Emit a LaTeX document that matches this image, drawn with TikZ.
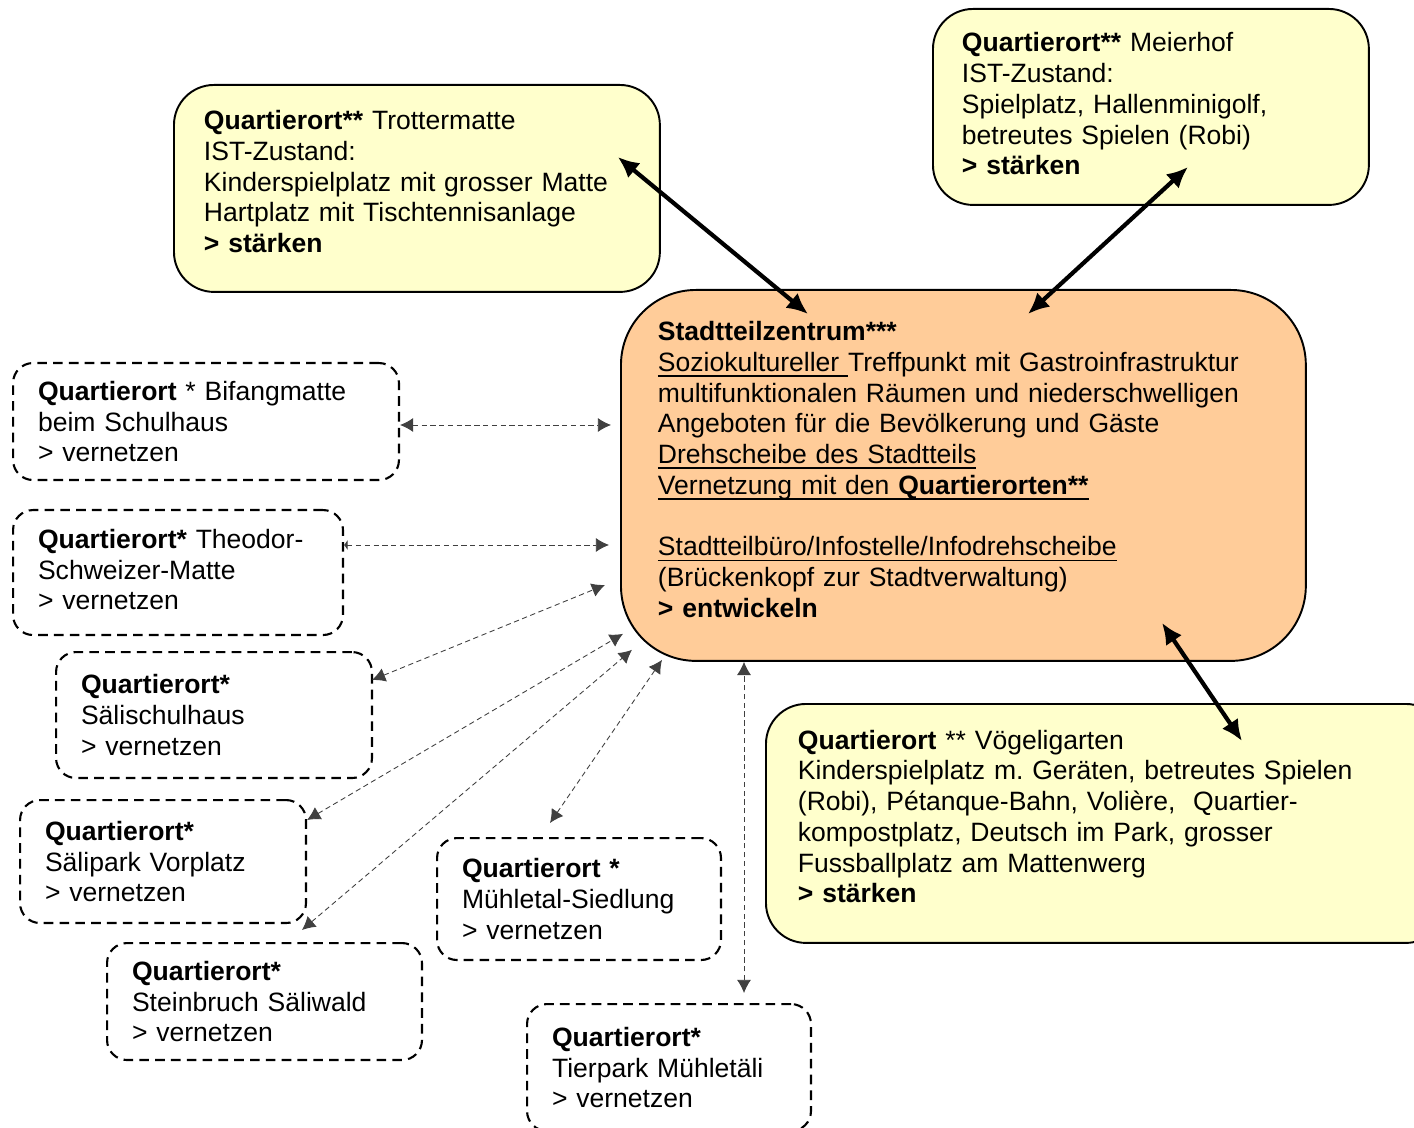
\documentclass[tikz,border=0pt]{standalone}
\usepackage{fontspec}
\setmainfont{Liberation Sans}
\usetikzlibrary{arrows.meta,calc}
\definecolor{hellgelb}{HTML}{FFFFCC}
\definecolor{pfirsich}{HTML}{FFCC99}
\newcommand{\ustr}[1]{\leavevmode\setbox0\hbox{#1}\rlap{\rule[-3.2pt]{\wd0}{1pt}}\box0}
\newcommand{\unten}[1]{\rule[-#1]{0pt}{0pt}}
\frenchspacing

\begin{document}
\begin{tikzpicture}[x=0.02cm,y=-0.02cm,
    every node/.style={font=\fontsize{15.1}{17.5}\selectfont, align=left, anchor=north west},
    stark/.style={draw, line width=1.1pt, fill=hellgelb, rounded corners=0.8cm, inner xsep=0.6cm},
    ort/.style={draw, line width=1.2pt, dash pattern=on 5.5pt off 3.5pt, rounded corners=0.4cm, inner xsep=0.5cm},
    link/.style={line width=0.5pt, dash pattern=on 3pt off 2pt, black!75, {Latex[length=7.5pt,width=8pt]}-{Latex[length=7.5pt,width=8pt]}},
    dick/.style={line width=2.4pt, {Latex[length=12pt,width=11pt]}-{Latex[length=12pt,width=11pt]}}]
    \path[use as bounding box, clip] (0,0) rectangle (1414,1128);

    % Stadtteilzentrum
    \node[draw, line width=1.1pt, fill=pfirsich, rounded corners=1.5cm, inner xsep=0.74cm,
          minimum width=13.7cm, minimum height=7.42cm, text width=12.22cm] (zentrum) at (620,289)
        {\textbf{Stadtteilzentrum***}\\
         \ustr{Soziokultureller }Treffpunkt mit Gastroinfrastruktur\\
         multifunktionalen Räumen und niederschwelligen\\
         Angeboten für die Bevölkerung und Gäste\\
         \ustr{Drehscheibe des Stadtteils}\\
         \ustr{Vernetzung mit den \textbf{Quartierorten**}}\\
         ~\\
         \ustr{Stadtteilbüro/Infostelle/Infodrehscheibe}\\
         (Brückenkopf zur Stadtverwaltung)\\
         \textbf{> entwickeln}\unten{7pt}};

    % Quartierorte ** (staerken)
    \node[stark, minimum width=9.72cm, minimum height=4.14cm, text width=8.52cm] (trott) at (173,84)
        {\textbf{Quartierort**} Trottermatte\\IST-Zustand:\\Kinderspielplatz mit grosser Matte\\
         Hartplatz mit Tischtennisanlage\\\textbf{> stärken}\unten{8pt}};
    \node[stark, inner xsep=0.58cm, minimum width=8.72cm, minimum height=3.92cm, text width=7.56cm] (meier) at (932,8)
        {\textbf{Quartierort**} Meierhof\\IST-Zustand:\\Spielplatz, Hallenminigolf,\\
         betreutes Spielen (Robi)\\\textbf{> stärken}\unten{3.5pt}};
    \node[stark, inner xsep=0.64cm, minimum width=13.6cm, minimum height=4.78cm, text width=12.32cm] (voegeli) at (765,703)
        {\textbf{Quartierort} ** Vögeligarten\\Kinderspielplatz m. Geräten, betreutes Spielen\\
         (Robi), Pétanque-Bahn, Volière, \ Quartier-\\kompostplatz, Deutsch im Park, grosser\\
         Fussballplatz am Mattenwerg\\\textbf{> stärken}\unten{8pt}};

    % Quartierorte * (vernetzen)
    \node[ort, minimum width=7.72cm, minimum height=2.34cm, text width=6.72cm] (bifang) at (12,362)
        {\textbf{Quartierort} * Bifangmatte\\beim Schulhaus\\> vernetzen};
    \node[ort, minimum width=6.6cm, minimum height=2.5cm, text width=5.6cm] (theodor) at (12,509)
        {\textbf{Quartierort*} Theodor-\\Schweizer-Matte\\> vernetzen\unten{3.5pt}};
    \node[ort, minimum width=6.32cm, minimum height=2.52cm, text width=5.32cm] (saelischul) at (55,651)
        {\textbf{Quartierort*}\\Sälischulhaus\\> vernetzen};
    \node[ort, minimum width=5.72cm, minimum height=2.46cm, text width=4.72cm] (saelipark) at (19,799)
        {\textbf{Quartierort*}\\Sälipark Vorplatz\\> vernetzen};
    \node[ort, minimum width=6.3cm, minimum height=2.34cm, text width=5.3cm] (steinbruch) at (106,942)
        {\textbf{Quartierort*}\\Steinbruch Säliwald\\> vernetzen};
    \node[ort, minimum width=5.68cm, minimum height=2.44cm, text width=4.68cm] (muehletal) at (436,837)
        {\textbf{Quartierort *}\\Mühletal-Siedlung\\> vernetzen};
    \node[ort, minimum width=5.68cm, minimum height=2.54cm, text width=4.68cm] (tierpark) at (526,1003)
        {\textbf{Quartierort*}\\Tierpark Mühletäli\\> vernetzen};

    \draw[dick] ($(trott.north east)+(-43,73)$) -- ($(zentrum.north west)+(188,25)$);
    \draw[dick] ($(meier.north west)+(256,159)$) -- ($(zentrum.north west)+(408,25)$);
    \draw[dick] ($(zentrum.south west)+(542,-39)$) -- ($(voegeli.north west)+(477,38)$);

    \draw[link] ($(bifang.north east)+(0,63)$) -- ($(zentrum.north west)+(-9,136)$);
    \draw[link, {Latex[length=2pt,width=6pt]}-{Latex[length=7.5pt,width=8pt]}]
        ($(theodor.north east)+(0,36)$) -- ($(zentrum.north west)+(-11,256)$);
    \draw[link] ($(saelischul.north east)+(-1,29)$) -- ($(zentrum.north west)+(-15,296)$);
    \draw[link] ($(saelipark.north east)+(0,21)$) -- ($(zentrum.south west)+(3,-28)$);
    \draw[link] ($(steinbruch.north west)+(196,-12)$) -- ($(zentrum.south west)+(12,-12)$);
    \draw[link] ($(muehletal.north west)+(114,-14)$) -- ($(zentrum.south west)+(42,-2)$);
    \draw[link] ($(tierpark.north west)+(218,-10)$) -- ($(zentrum.south west)+(124,0)$);
\end{tikzpicture}
\end{document}
